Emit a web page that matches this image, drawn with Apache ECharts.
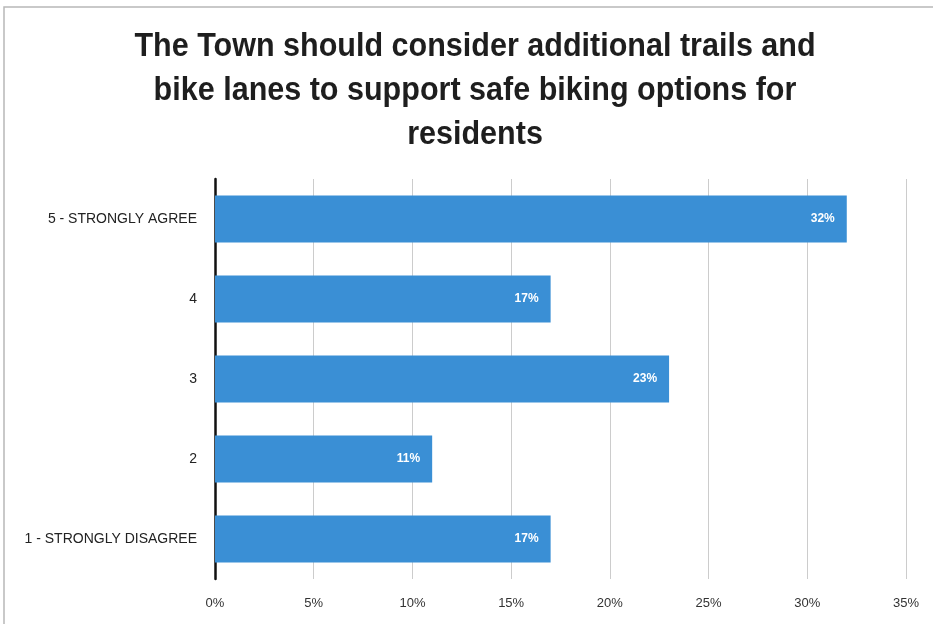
<!DOCTYPE html>
<html>
<head>
<meta charset="utf-8">
<script src="https://cdn.jsdelivr.net/npm/echarts@6/dist/echarts.min.js"></script>
<style>
  html, body { margin: 0; padding: 0; background: #ffffff; }
  #chart { width: 933px; height: 624px; }
</style>
</head>
<body>
<div id="chart"></div>
<script>
// Survey responses, bottom category first
const categories = ['1 - STRONGLY DISAGREE', '2', '3', '4', '5 - STRONGLY AGREE'];
const shares = [17, 11, 23, 17, 32];
const tickValues = [0, 5, 10, 15, 20, 25, 30, 35];

const titleText = 'The Town should consider additional trails and\nbike lanes to support safe biking options for\nresidents';
const sans = '"Liberation Sans", Arial, sans-serif';

const chart = echarts.init(document.getElementById('chart'), null, { renderer: 'canvas' });

chart.setOption({
  backgroundColor: '#ffffff',
  animation: false,
  graphic: [
    {
      type: 'rect',
      shape: { x: 4, y: 7, width: 960, height: 640 },
      style: { fill: 'none', stroke: '#b8b8b8', lineWidth: 1.5 },
      silent: true
    },
    {
      // condensed heading: horizontally squeezed bold text
      type: 'text',
      x: 475,
      y: 25,
      scaleX: 0.925,
      silent: true,
      style: {
        text: titleText,
        fontFamily: sans,
        fontWeight: 'bold',
        fontSize: 33,
        lineHeight: 44,
        fill: '#1e1e1e',
        align: 'center',
        verticalAlign: 'top'
      }
    }
  ],
  grid: { left: 215, right: 27, top: 179, height: 400, containLabel: false },
  xAxis: {
    type: 'value',
    min: tickValues[0],
    max: tickValues[tickValues.length - 1],
    interval: 5,
    axisLine: { show: false },
    axisTick: { show: false },
    splitLine: { show: true, lineStyle: { color: '#cccccc', width: 1 } },
    axisLabel: {
      formatter: v => v + '%',
      margin: 18,
      fontFamily: sans,
      fontSize: 13,
      color: '#333333'
    }
  },
  yAxis: {
    type: 'category',
    data: categories,
    axisLine: { show: true, lineStyle: { color: '#111111', width: 2.5 } },
    axisTick: { show: false },
    axisLabel: {
      margin: 18,
      fontFamily: sans,
      fontSize: 14,
      color: '#222222'
    }
  },
  series: [{
    type: 'bar',
    data: shares,
    barWidth: 47,
    itemStyle: { color: '#3a8fd5' },
    label: {
      show: true,
      position: 'insideRight',
      distance: 12,
      formatter: p => p.value + '%',
      fontFamily: sans,
      fontWeight: 'bold',
      fontSize: 12,
      color: '#ffffff'
    }
  }]
});
</script>
</body>
</html>
